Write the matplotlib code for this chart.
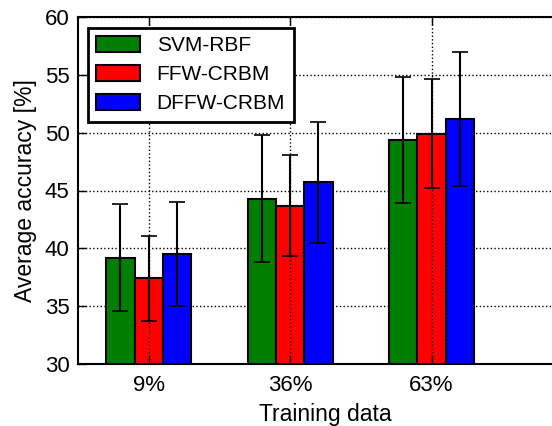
import matplotlib
matplotlib.use("Agg")
import matplotlib.pyplot as plt
import numpy as np

plt.rcParams['font.family'] = ['Liberation Sans', 'DejaVu Sans']

categories = ["9%", "36%", "63%"]
series = ["SVM-RBF", "FFW-CRBM", "DFFW-CRBM"]
values = {
    "SVM-RBF":   [39.2, 44.3, 49.4],
    "FFW-CRBM":  [37.4, 43.7, 49.9],
    "DFFW-CRBM": [39.5, 45.7, 51.2],
}
errors = {
    "SVM-RBF":   [4.6, 5.5, 5.45],
    "FFW-CRBM":  [3.65, 4.4, 4.7],
    "DFFW-CRBM": [4.5, 5.25, 5.8],
}
colors = ["#007f00", "#ff0000", "#0000ff"]

fig = plt.figure(figsize=(5.52, 4.26), dpi=100)
ax = fig.add_axes([78/552, 62/426, (573-78)/552, (364-17)/426])

x = np.arange(len(categories))
w = 0.2
for i, s in enumerate(series):
    ax.bar(x + (i-1)*w, values[s], w, color=colors[i], edgecolor='black',
           linewidth=1.5, label=s, zorder=2,
           yerr=errors[s], error_kw=dict(ecolor='black', elinewidth=1.5,
                                         capsize=6, capthick=1.2, zorder=3))

ax.set_ylim(30, 60)
ax.set_xlim(-0.5, 3.0)
ax.set_xticks(x)
ax.set_xticklabels(categories)
ax.set_yticks(np.arange(30, 61, 5))
ax.tick_params(direction='in', top=True, right=True, length=6, width=1,
               labelsize=16, pad=6)
ax.tick_params(axis='x', pad=8)
ax.grid(True, linestyle=':', color='black', linewidth=1)
ax.set_axisbelow(True)
ax.xaxis.set_zorder(5)
for sp in ax.spines.values():
    sp.set_linewidth(1.5)

ax.set_xlabel("Training data", fontsize=16.5, labelpad=5)
ax.set_ylabel("Average accuracy [%]", fontsize=16.5, labelpad=6)

leg = ax.legend(loc='upper left', bbox_to_anchor=(88/552, 1-28/426),
                bbox_transform=fig.transFigure, borderaxespad=0,
                fontsize=15, handlelength=2.1, handleheight=0.75,
                handletextpad=0.8, labelspacing=0.48, fancybox=False,
                framealpha=1, borderpad=0.4)
leg.get_frame().set_linewidth(2)
leg.get_frame().set_edgecolor('black')

fig.savefig("out.png", dpi=100)
